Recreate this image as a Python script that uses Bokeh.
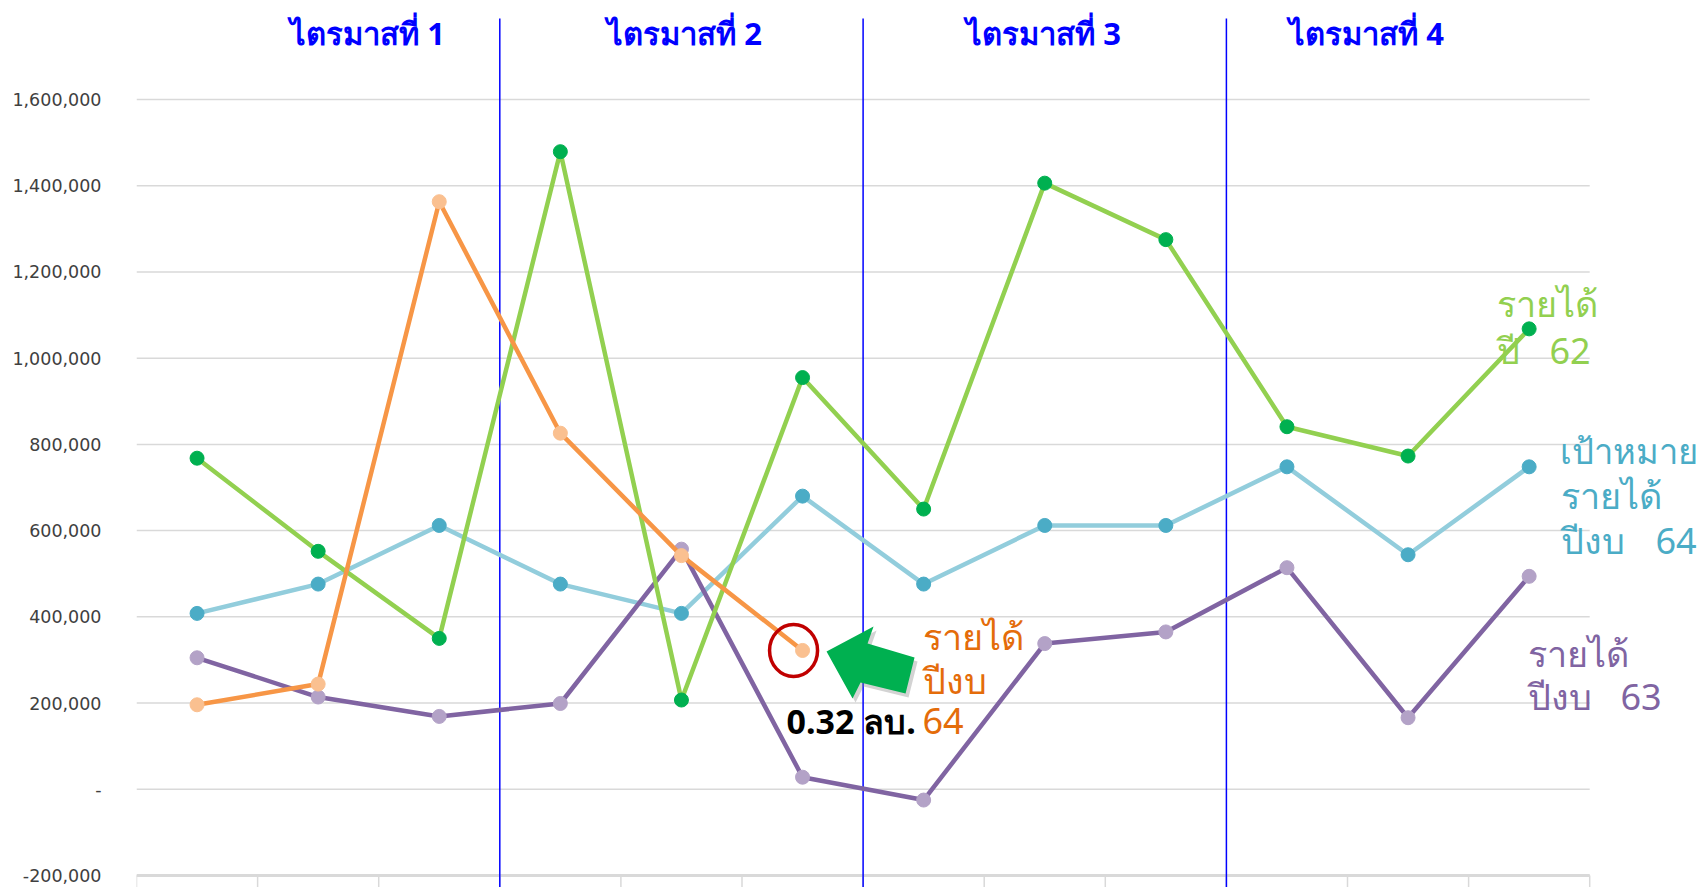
from bokeh.plotting import figure
from bokeh.models import Range1d, FixedTicker, Label
from bokeh.embed import file_html
from bokeh.resources import INLINE

# ---------------- data ----------------
months = ["ต.ค.", "พ.ย.", "ธ.ค.", "ม.ค.", "ก.พ.", "มี.ค.",
          "เม.ย.", "พ.ค.", "มิ.ย.", "ก.ค.", "ส.ค.", "ก.ย."]
rev62 = [768000, 552000, 350000, 1479000, 207000, 955000,
         650000, 1406000, 1275000, 841000, 773000, 1068000]
target64 = [408000, 476000, 612000, 476000, 408000, 680000,
            476000, 612000, 612000, 748000, 544000, 748000]
rev63 = [305000, 214000, 169000, 199000, 557000, 28000,
         -25000, 338000, 365000, 514000, 166000, 494000]
rev64 = [196000, 244000, 1363000, 826000, 542000, 322000]
quarters = ["ไตรมาสที่ 1", "ไตรมาสที่ 2", "ไตรมาสที่ 3", "ไตรมาสที่ 4"]
quarter_bounds = [3, 6, 9]
y_ticks = [-200000, 0, 200000, 400000, 600000, 800000, 1000000,
           1200000, 1400000, 1600000]
y_labels = ["-200,000", "-", "200,000", "400,000", "600,000", "800,000",
            "1,000,000", "1,200,000", "1,400,000", "1,600,000"]
callout_text = "0.32 ลบ."

# ---------------- geometry helpers (canvas pixels -> data) ----------------
W, H = 1703, 887
FRAME_L = 136.0
CAT_W = 121.1
Y_BASE = 875.0
PX_PER_STEP = 86.22
TXT_DY = -12


def xd(px):
    return (px - FRAME_L) / CAT_W


def yd(py):
    return -200000 + (Y_BASE - py) / PX_PER_STEP * 200000


n = len(months)
p = figure(width=W, height=H, output_backend="svg", toolbar_location=None,
           x_range=Range1d(0, xd(W)), y_range=Range1d(yd(H), yd(0)),
           x_axis_location=None, min_border_left=int(FRAME_L),
           min_border_right=0, min_border_top=0, min_border_bottom=0)
p.outline_line_color = None
p.background_fill_color = "white"
p.border_fill_color = "white"
p.xgrid.visible = False
p.ygrid.visible = False

ax = p.yaxis[0]
ax.ticker = FixedTicker(ticks=y_ticks)
ax.major_label_overrides = {t: l for t, l in zip(y_ticks, y_labels)}
ax.axis_line_color = None
ax.major_tick_line_color = None
ax.minor_tick_line_color = None
ax.major_tick_out = 0
ax.major_tick_in = 0
ax.major_label_standoff = 35
ax.major_label_text_font = "DejaVu Sans"
ax.major_label_text_font_size = "17.5px"
ax.major_label_text_color = "#404040"

# horizontal gridlines (limited to the category area)
p.segment(x0=[0] * len(y_ticks), y0=y_ticks, x1=[n] * len(y_ticks),
          y1=y_ticks, line_color="#D9D9D9", line_width=1.5)
# bottom axis line and category ticks
p.segment(x0=[0], y0=[y_ticks[0]], x1=[n], y1=[y_ticks[0]],
          line_color="#D9D9D9", line_width=3)
p.segment(x0=list(range(n + 1)), y0=[y_ticks[0]] * (n + 1),
          x1=list(range(n + 1)), y1=[yd(900)] * (n + 1),
          line_color="#D9D9D9", line_width=1.5)

# quarter separators
p.segment(x0=quarter_bounds, y0=[yd(18)] * 3, x1=quarter_bounds,
          y1=[yd(900)] * 3, line_color="#0000FF", line_width=1.5)

xs = [i + 0.5 for i in range(n)]


def series(vals, line_c, mark_c):
    x = xs[:len(vals)]
    p.line(x, vals, line_color=line_c, line_width=4.5)
    p.scatter(x, vals, size=14, fill_color=mark_c, line_color=mark_c)


series(target64, "#92CDDC", "#4BACC6")
series(rev63, "#8064A2", "#B3A2C7")
series(rev62, "#92D050", "#00B050")
series(rev64, "#F79646", "#FAC090")

# callout: red circle around last value of รายได้ ปีงบ 64
lx = xs[len(rev64) - 1]
ly = rev64[-1]
px0 = FRAME_L + lx * CAT_W
py0 = Y_BASE - (ly + 200000) / 200000 * PX_PER_STEP
p.ellipse(x=[xd(px0 - 9)], y=[ly], width=48, height=52,
          width_units="screen", height_units="screen",
          fill_color=None, line_color="#C00000", line_width=3.5)

# green arrow
arrow = [(24, 1), (71, -24), (65, -7), (112, 7), (103, 43), (58, 32), (50, 48)]
p.patch([xd(px0 + dx + 3) for dx, dy in arrow],
        [yd(py0 + dy + 4) for dx, dy in arrow],
        fill_color="#808080", fill_alpha=0.35, line_color=None)
p.patch([xd(px0 + dx) for dx, dy in arrow],
        [yd(py0 + dy) for dx, dy in arrow],
        fill_color="#00B050", line_color=None)

THAI = "Noto Sans"


def lab(px, py, text, color, size="36px", style="normal", align="left"):
    p.add_layout(Label(x=xd(px), y=yd(py + TXT_DY), text=text,
                       text_color=color, text_font=THAI, text_font_size=size,
                       text_font_style=style, text_align=align,
                       text_baseline="alphabetic"))


# quarter titles
for q, cx in zip(quarters, [367, 684, 1043, 1366]):
    lab(cx, 44, q, "#0000FF", size="31px", style="bold", align="center")

# series labels
lab(922, 648, "รายได้", "#E46C0A")
lab(922, 692, "ปีงบ", "#E46C0A")
lab(922, 732, "64", "#E46C0A")
lab(786, 732, callout_text, "#000000", size="34px", style="bold")

lab(1496, 315, "รายได้", "#92D050")
lab(1496, 362, "ปี", "#92D050")
lab(1549, 362, "62", "#92D050")

lab(1559, 462, "เป้าหมาย", "#4BACC6", size="34.5px")
lab(1560, 507, "รายได้", "#4BACC6")
lab(1560, 552, "ปีงบ", "#4BACC6")
lab(1655, 552, "64", "#4BACC6")

lab(1527, 665, "รายได้", "#8064A2")
lab(1527, 708, "ปีงบ", "#8064A2")
lab(1620, 708, "63", "#8064A2")

open("out.html", "w").write(file_html(p, INLINE))
